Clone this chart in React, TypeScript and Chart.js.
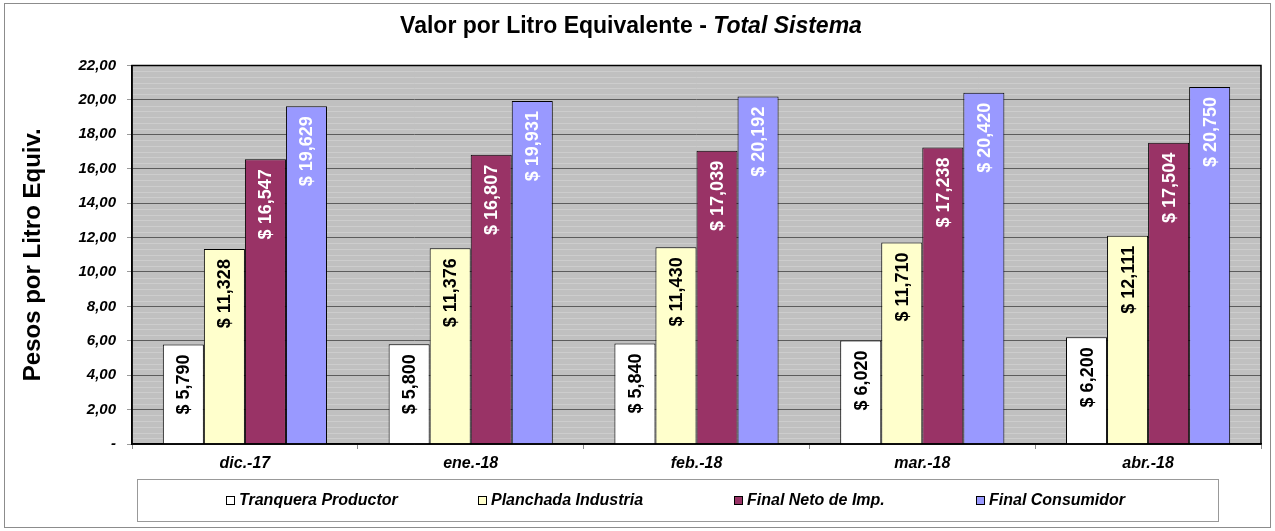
import React, { useEffect, useRef } from "react";
import { Chart, registerables } from "chart.js";

Chart.register(...registerables);

const categories = ["dic.-17", "ene.-18", "feb.-18", "mar.-18", "abr.-18"];
const seriesNames = ["Tranquera Productor", "Planchada Industria", "Final Neto de Imp.", "Final Consumidor"];
const tranquera = [5.79, 5.8, 5.84, 6.02, 6.2];
const planchada = [11.328, 11.376, 11.43, 11.71, 12.111];
const finalNeto = [16.547, 16.807, 17.039, 17.238, 17.504];
const finalConsumidor = [19.629, 19.931, 20.192, 20.42, 20.75];
const seriesColors = ["#FFFFFF", "#FFFFCC", "#993366", "#9999FF"];
const labelColors = ["#000000", "#000000", "#FFFFFF", "#FFFFFF"];
const yTicks = [0, 2, 4, 6, 8, 10, 12, 14, 16, 18, 20, 22];

const FONT = "'Liberation Sans', Arial, sans-serif";

const customPlugin = {
  id: "custom",
  beforeDraw(chart: any) {
    const { ctx, chartArea, scales } = chart;
    ctx.save();
    ctx.fillStyle = "#FFFFFF";
    ctx.fillRect(0, 0, chart.width, chart.height);
    // outer frame
    ctx.strokeStyle = "#8c8c8c";
    ctx.lineWidth = 1;
    ctx.strokeRect(4.5, 3.5, 1266, 524);
    // plot background
    ctx.fillStyle = "#C0C0C0";
    ctx.fillRect(chartArea.left, chartArea.top, chartArea.right - chartArea.left, chartArea.bottom - chartArea.top);
    // faint stripes
    ctx.strokeStyle = "#CDCDCD";
    ctx.lineWidth = 1;
    const y = scales.y;
    for (let i = 0; i < yTicks.length - 1; i++) {
      for (let k = 1; k < 6; k++) {
        const v = yTicks[i] + ((yTicks[i + 1] - yTicks[i]) * k) / 6;
        const py = Math.round(y.getPixelForValue(v)) + 0.5;
        ctx.beginPath();
        ctx.moveTo(chartArea.left, py);
        ctx.lineTo(chartArea.right, py);
        ctx.stroke();
      }
    }
    ctx.restore();
  },
  afterDatasetsDraw(chart: any) {
    const { ctx, chartArea } = chart;
    ctx.save();
    // plot border
    ctx.strokeStyle = "#000000";
    ctx.lineWidth = 1.5;
    ctx.strokeRect(chartArea.left, chartArea.top, chartArea.right - chartArea.left, chartArea.bottom - chartArea.top);
    // data labels
    ctx.font = `bold 18px ${FONT}`;
    ctx.textBaseline = "middle";
    ctx.textAlign = "right";
    chart.data.datasets.forEach((ds: any, di: number) => {
      const meta = chart.getDatasetMeta(di);
      meta.data.forEach((el: any, i: number) => {
        const v = ds.data[i] as number;
        const txt = "$ " + v.toFixed(3).replace(".", ",");
        ctx.save();
        ctx.translate(el.x, el.y + 10);
        ctx.rotate(-Math.PI / 2);
        ctx.fillStyle = labelColors[di];
        ctx.fillText(txt, 0, 1);
        ctx.restore();
      });
    });
    ctx.restore();
  },
  afterDraw(chart: any) {
    const { ctx } = chart;
    ctx.save();
    // title
    const part1 = "Valor por Litro Equivalente - ";
    const part2 = "Total Sistema";
    ctx.font = `bold 23px ${FONT}`;
    const w1 = ctx.measureText(part1).width;
    ctx.font = `italic bold 23px ${FONT}`;
    const w2 = ctx.measureText(part2).width;
    const startX = 631 - (w1 + w2) / 2;
    ctx.textBaseline = "middle";
    ctx.textAlign = "left";
    ctx.fillStyle = "#000000";
    ctx.font = `bold 23px ${FONT}`;
    ctx.fillText(part1, startX, 27);
    ctx.font = `italic bold 23px ${FONT}`;
    ctx.fillText(part2, startX + w1, 27);
    // legend box
    ctx.strokeStyle = "#999999";
    ctx.lineWidth = 1;
    ctx.strokeRect(137.5, 479.5, 1081, 42);
    const textX = [239, 491, 747, 989];
    ctx.font = `italic bold 16px ${FONT}`;
    seriesNames.forEach((name, i) => {
      const sx = textX[i] - 13;
      ctx.fillStyle = seriesColors[i];
      ctx.fillRect(sx + 0.5, 496.5, 8, 8);
      ctx.strokeStyle = "#000000";
      ctx.strokeRect(sx + 0.5, 496.5, 8, 8);
      ctx.fillStyle = "#000000";
      ctx.fillText(name, textX[i], 501);
    });
    ctx.restore();
  },
};

export default function App() {
  const ref = useRef<HTMLCanvasElement>(null);
  useEffect(() => {
    document.body.style.margin = "0";
    Chart.defaults.font.family = FONT;
    const seriesData = [tranquera, planchada, finalNeto, finalConsumidor];
    const chart = new Chart(ref.current!, {
      type: "bar",
      data: {
        labels: categories,
        datasets: seriesNames.map((name, i) => ({
          label: name,
          data: seriesData[i],
          backgroundColor: seriesColors[i],
          borderColor: "#000000",
          borderWidth: 1,
          categoryPercentage: 0.727,
          barPercentage: 1,
        })),
      },
      options: {
        animation: false,
        responsive: false,
        devicePixelRatio: 1,
        layout: { padding: { top: 65.5, right: 14, bottom: 0, left: 0 } },
        plugins: {
          legend: { display: false },
          title: { display: false },
          tooltip: { enabled: false },
        },
        scales: {
          x: {
            grid: {
              offset: true,
              drawOnChartArea: false,
              drawTicks: true,
              tickLength: 5,
              color: "#8a8a8a",
            },
            border: { display: true, color: "#000000", width: 1.5 },
            ticks: {
              font: { size: 16, weight: "bold", style: "italic" },
              color: "#000000",
              padding: 5,
            },
            afterFit: (s: any) => {
              s.height = 87;
            },
          },
          y: {
            min: 0,
            max: 22,
            afterBuildTicks: (s: any) => {
              s.ticks = yTicks.map((v) => ({ value: v }));
            },
            ticks: {
              font: { size: 15, weight: "bold", style: "italic" },
              color: "#000000",
              padding: 11,
              callback: (v: any) => (Number(v) === 0 ? "-" : Number(v).toFixed(2).replace(".", ",")),
            },
            grid: {
              color: "#5c5c5c",
              tickColor: "#9a9a9a",
              tickLength: 5,
              lineWidth: 1,
            },
            border: { display: true, color: "#000000", width: 1.5 },
            title: {
              display: true,
              text: "Pesos por Litro Equiv.",
              font: { size: 24, weight: "bold" },
              color: "#000000",
              padding: { top: 19, bottom: 0 },
            },
            afterFit: (s: any) => {
              s.width = 132;
            },
          },
        },
      },
      plugins: [customPlugin],
    });
    return () => chart.destroy();
  }, []);
  return (
    <div style={{ width: 1275, height: 531 }}>
      <canvas ref={ref} width={1275} height={531} style={{ width: 1275, height: 531, display: "block" }} />
    </div>
  );
}
